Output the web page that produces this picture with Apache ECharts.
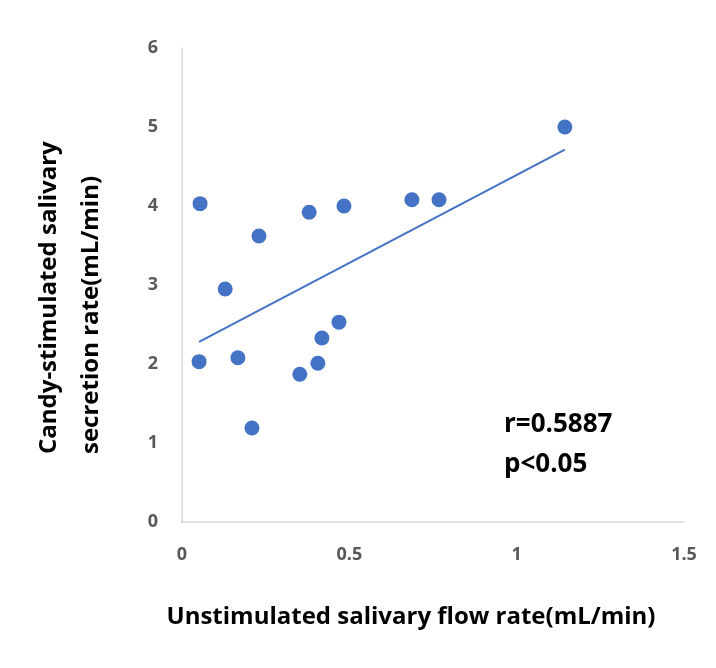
<!DOCTYPE html>
<html lang="en">
<head>
    <meta charset="UTF-8">
    <title>Salivary flow</title>
    <script src="https://cdn.jsdelivr.net/npm/echarts@6/dist/echarts.min.js"></script>
    <style>
        html, body { margin: 0; padding: 0; background: #fff; }
    </style>
</head>
<body>
    <div id="chart" style="width: 716px; height: 668px;"></div>
    <script>
    // 非刺激唾液流量 (x) 与 糖果刺激分泌率 (y)
    var unstimulated = [0.054, 0.051, 0.129, 0.167, 0.209, 0.230, 0.380, 0.484, 0.352, 0.406, 0.418, 0.469, 0.687, 0.768, 1.144];
    var candyStimulated = [4.03, 2.03, 2.95, 2.08, 1.19, 3.62, 3.92, 4.00, 1.87, 2.01, 2.33, 2.53, 4.08, 4.08, 5.00];
    var xTicks = [0, 0.5, 1, 1.5];
    var yTicks = [0, 1, 2, 3, 4, 5, 6];
    var yTitleLines = ['Candy-stimulated salivary', 'secretion rate(mL/min)'];
    var statLines = ['r=0.5887', 'p<0.05'];

    var points = [];
    for (var i = 0; i < unstimulated.length; i++) {
        points.push([unstimulated[i], candyStimulated[i]]);
    }

    // 线性趋势线 (最小二乘)
    function trendLine(xs, ys) {
        var n = xs.length, sx = 0, sy = 0, sxy = 0, sxx = 0;
        for (var i = 0; i < n; i++) {
            sx += xs[i]; sy += ys[i];
            sxy += xs[i] * ys[i]; sxx += xs[i] * xs[i];
        }
        var b = (n * sxy - sx * sy) / (n * sxx - sx * sx);
        var a = (sy - b * sx) / n;
        var lo = Math.min.apply(null, xs), hi = Math.max.apply(null, xs);
        return [[lo, a + b * lo], [hi, a + b * hi]];
    }

    var blue = '#4472C4';
    var font = '"Open Sans", Lato, sans-serif';
    var myChart = echarts.init(document.getElementById('chart'));

    var option = {
        animation: false,
        backgroundColor: '#fff',
        grid: { left: 182, right: 32, top: 48, bottom: 146 },
        xAxis: {
            type: 'value',
            min: xTicks[0],
            max: xTicks[xTicks.length - 1],
            interval: 0.5,
            name: 'Unstimulated salivary flow rate(mL/min)',
            nameLocation: 'middle',
            nameGap: 83,
            nameTextStyle: { fontFamily: font, fontWeight: 'bold', fontSize: 24, color: '#000', padding: [0, 44, 0, 0] },
            axisLine: { show: true, lineStyle: { color: '#D9D9D9', width: 1.5 } },
            axisTick: { show: false },
            splitLine: { show: false },
            axisLabel: { fontFamily: font, fontSize: 18, color: '#595959', margin: 24, fontWeight: 'bold' }
        },
        yAxis: {
            type: 'value',
            min: yTicks[0],
            max: yTicks[yTicks.length - 1],
            interval: 1,
            axisLine: { show: true, lineStyle: { color: '#D9D9D9', width: 1.5 } },
            axisTick: { show: false },
            splitLine: { show: false },
            axisLabel: { fontFamily: font, fontSize: 18, color: '#595959', margin: 24, fontWeight: 'bold' }
        },
        graphic: [{
            // 纵轴标题: 两行左对齐, 旋转90度
            type: 'text',
            x: 70,
            y: 454,
            rotation: Math.PI / 2,
            style: {
                text: yTitleLines.join('\n'),
                font: 'bold 24px ' + font,
                lineHeight: 42,
                align: 'left',
                verticalAlign: 'middle',
                fill: '#000'
            }
        }, {
            type: 'text',
            left: 504,
            top: 405,
            style: {
                text: statLines.join('\n'),
                font: 'bold 26px ' + font,
                lineHeight: 40,
                fill: '#000'
            }
        }],
        series: [{
            type: 'scatter',
            data: points,
            symbolSize: 15,
            itemStyle: { color: blue, opacity: 1 }
        }, {
            type: 'line',
            data: trendLine(unstimulated, candyStimulated),
            symbol: 'none',
            lineStyle: { color: blue, width: 2 },
            silent: true
        }]
    };
    myChart.setOption(option);
    </script>
</body>
</html>
